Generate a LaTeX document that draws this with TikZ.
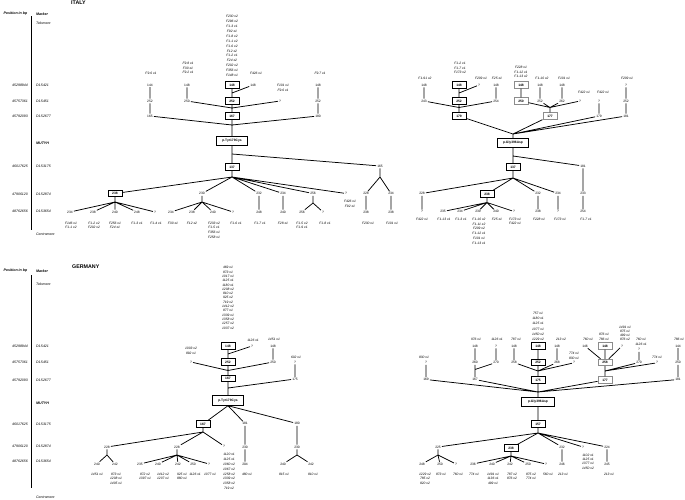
\documentclass[tikz,border=0pt]{standalone}
\usepackage{fontspec}
\setmainfont{Liberation Sans}
\newcommand{\myLab}{\fontsize{3.3}{4.6}\selectfont\itshape}
\newcommand{\myNum}{\fontsize{3.3}{4}\selectfont}
\newcommand{\myBox}{\fontsize{3.3}{4}\selectfont\bfseries}
\newcommand{\myHead}{\fontsize{3.6}{4.2}\selectfont\bfseries\itshape}
\newcommand{\myPos}{\fontsize{3.5}{4.2}\selectfont\itshape}
\newcommand{\myTitle}{\fontsize{5.3}{6}\selectfont\bfseries}
\begin{document}
\begin{tikzpicture}[x=1pt,y=-1pt,
 lab/.style={font=\myLab, align=center, inner sep=0.2pt},
 labs/.style={lab, font=\fontsize{3.3}{#1}\selectfont\itshape},
 num/.style={font=\myNum, inner sep=0.9pt},
 bx/.style={draw, line width=0.9pt, font=\myBox, minimum width=14pt, minimum height=6.4pt, inner sep=0.4pt},
 gbx/.style={bx, draw=black!45},
 mbx/.style={bx, minimum width=31pt, minimum height=9.5pt},
 ed/.style={line width=0.75pt},
 axis/.style={line width=1pt},
 posl/.style={font=\myPos, anchor=east, inner sep=0pt},
 mk/.style={font=\myPos, anchor=west, inner sep=0pt},
 mkb/.style={font=\myHead, anchor=west, inner sep=0pt},
 head/.style={font=\myHead, inner sep=0pt},
 ttl/.style={font=\myTitle, anchor=west, inner sep=0pt}]
\useasboundingbox (0,0) rectangle (685,499);

% ================= ITALY: side column =================
\node[ttl] (ITtitle) at (71,3) {ITALY};
\node[head, anchor=east] (ITposh) at (27.5,14) {Position in bp};
\node[head, anchor=west] (ITmarkh) at (36,14) {Marker};
\coordinate (ITax1) at (31.5,16);
\coordinate (ITax2) at (31.5,230);
\draw[axis] (ITax1) -- (ITax2);
\node[posl] (ITp1) at (28,85) {45298944};
\node[posl] (ITp2) at (28,101) {45757361};
\node[posl] (ITp3) at (28,116) {45792093};
\node[posl] (ITp4) at (28,166) {46017625};
\node[posl] (ITp5) at (28,194) {47906120};
\node[posl] (ITp6) at (28,211) {48762656};
\node[mk] (ITm0) at (36,23) {Telomere};
\node[mk] (ITm1) at (36,85) {D1S421};
\node[mk] (ITm2) at (36,101) {D1S451};
\node[mk] (ITm3) at (36,116) {D1S2677};
\node[mkb] (ITm4) at (36,143) {MUTYH};
\node[mk] (ITm5) at (36,166) {D1S3175};
\node[mk] (ITm6) at (36,194) {D1S2874};
\node[mk] (ITm7) at (36,211) {D1S3654};
\node[mk] (ITm8) at (36,234) {Centromere};

% ================= ITALY: p.Tyr179Cys tree =================
\node[labs=4.9, anchor=south] (ILl0) at (232,77) {F230 x2\\F296 x2\\F1-3 x1\\F92 x1\\F1-8 x2\\F1-1 x2\\F1-6 x2\\F12 x2\\F1-2 x1\\F24 x2\\F202 x2\\F356 x1\\F148 x1};
\node[bx] (ILb1) at (232,85) {148};
\node[bx] (ILb2) at (232,101) {252};
\node[bx] (ILb3) at (232,116) {167};
\node[mbx] (ILpt) at (232,141) {p.Tyr179Cys};
\node[bx] (ILb4) at (232,167) {137};
\node[bx] (ILb5) at (115,193.5) {238};
\node[lab] (ILl1) at (151,73) {F9.6 x1};
\node[num] (ILn1) at (150,85) {144};
\node[num] (ILn2) at (150,101) {252};
\node[num] (ILn3) at (150,116) {165};
\node[labs=4.5, anchor=south] (ILl2) at (188,74) {F9.8 x1\\F30 x1\\F9.2 x1};
\node[num] (ILn4) at (187,85) {148};
\node[num] (ILn5) at (187,101) {250};
\node[lab] (ILl3) at (256,73) {F426 x1};
\node[num] (ILn6) at (253,85) {148};
\node[labs=4.3] (ILl4) at (283,88) {F101 x1\\F9.6 x1};
\node[num] (ILn7) at (280,101) {?};
\node[lab] (ILl5) at (320,73) {F9.7 x1};
\node[num] (ILn8) at (318,85) {148};
\node[num] (ILn9) at (318,101) {252};
\node[num] (ILn10) at (318,116) {180};
\coordinate (ILj1) at (232,93);
\coordinate (ILj2) at (232,108);
\coordinate (ILj3) at (232,125);
\coordinate (ILj4) at (232,154);
\coordinate (ILj5) at (232,177);
\coordinate (ILj6) at (380,177);
\draw[ed] (ILn1)--(ILn2) (ILn2)--(ILn3) (ILn4)--(ILn5) (ILb1)--(ILb2) (ILn6)--(ILj1)
 (ILb2)--(ILb3) (ILn5)--(ILj2) (ILn7)--(ILj2) (ILn8)--(ILn9) (ILn9)--(ILn10)
 (ILn3)--(ILj3) (ILn10)--(ILj3) (ILb3)--(ILpt) (ILpt)--(ILb4);
\node[num] (ILd1) at (380,166) {165};
\node[num] (ILe1) at (202,193.5) {230};
\node[num] (ILe2) at (259,193.5) {232};
\node[num] (ILe3) at (283,193.5) {234};
\node[num] (ILe4) at (313,193.5) {256};
\node[num] (ILe5) at (346,193.5) {?};
\node[num] (ILe6) at (366,193.5) {228};
\node[num] (ILe7) at (391,193.5) {234};
\draw[ed] (ILj4)--(ILd1) (ILb4)--(ILj5) (ILj5)--(ILb5) (ILj5)--(ILe1) (ILj5)--(ILe2)
 (ILj5)--(ILe3) (ILj5)--(ILe4) (ILj5)--(ILe5) (ILd1)--(ILj6) (ILj6)--(ILe6) (ILj6)--(ILe7);
\coordinate (ILj7) at (115,202);
\coordinate (ILj8) at (202,202);
\coordinate (ILj9) at (313,203);
\node[num] (ILf1) at (70,212) {234};
\node[num] (ILf2) at (93,212) {238};
\node[num] (ILf3) at (115,212) {240};
\node[num] (ILf4) at (137,212) {248};
\node[num] (ILf5) at (155,212) {?};
\node[num] (ILf6) at (171,212) {234};
\node[num] (ILf7) at (192,212) {238};
\node[num] (ILf8) at (213,212) {240};
\node[num] (ILf9) at (233,212) {?};
\node[num] (ILf10) at (259,212) {248};
\node[num] (ILf11) at (283,212) {240};
\node[num] (ILf12) at (302,212) {256};
\node[num] (ILf13) at (323,212) {?};
\node[num] (ILf14) at (366,212) {238};
\node[num] (ILf15) at (391,212) {238};
\draw[ed] (ILb5)--(ILj7) (ILj7)--(ILf1) (ILj7)--(ILf2) (ILj7)--(ILf3) (ILj7)--(ILf4) (ILj7)--(ILf5)
 (ILe1)--(ILj8) (ILj8)--(ILf6) (ILj8)--(ILf7) (ILj8)--(ILf8) (ILj8)--(ILf9)
 (ILe2)--(ILf10) (ILe3)--(ILf11) (ILe4)--(ILj9) (ILj9)--(ILf12) (ILj9)--(ILf13)
 (ILe6)--(ILf14) (ILe7)--(ILf15);
\node[lab, anchor=north] (ILk1) at (71,221.5) {F146 x1\\F1-1 x2};
\node[lab, anchor=north] (ILk2) at (94,221.5) {F1-2 x2\\F202 x2};
\node[lab, anchor=north] (ILk3) at (115,221.5) {F256 x1\\F24 x1};
\node[lab, anchor=north] (ILk4) at (137,221.5) {F1-3 x1};
\node[lab, anchor=north] (ILk5) at (156,221.5) {F1-4 x1};
\node[lab, anchor=north] (ILk6) at (173,221.5) {F30 x1};
\node[lab, anchor=north] (ILk7) at (192,221.5) {F12 x2};
\node[lab, anchor=north] (ILk8) at (214,221.5) {F233 x2\\F1-5 x1\\F356 x1\\F258 x1};
\node[lab, anchor=north] (ILk9) at (236,221.5) {F1-6 x1};
\node[lab, anchor=north] (ILk10) at (260,221.5) {F1-7 x1};
\node[lab, anchor=north] (ILk11) at (283,221.5) {F28 x1};
\node[lab, anchor=north] (ILk12) at (302,221.5) {F1-5 x2\\F1-9 x1};
\node[lab, anchor=north] (ILk13) at (325,221.5) {F1-8 x1};
\node[lab, anchor=north] (ILk14) at (350,200) {F426 x1\\F92 x1};
\node[lab, anchor=north] (ILk15) at (368,221.5) {F230 x1};
\node[lab, anchor=north] (ILk16) at (392,221.5) {F101 x1};

% ================= ITALY: p.Gly396Asp tree =================
\node[lab] (IRl1) at (425,78) {F1-91 x2};
\node[num] (IRn1) at (424,85) {148};
\node[num] (IRn2) at (424,101) {243};
\node[labs=4.5, anchor=south] (IRl2) at (460,74) {F1-2 x1\\F1-7 x1\\F173 x2};
\node[bx] (IRb1) at (459,85) {148};
\node[bx] (IRb2) at (459,101) {252};
\node[bx] (IRb3) at (459,116) {179};
\node[lab] (IRl3) at (481,78) {F209 x1};
\node[num] (IRn3) at (479,85) {?};
\node[lab] (IRl4) at (497,78) {F25 x1};
\node[num] (IRn4) at (496,85) {148};
\node[num] (IRn5) at (496,101) {254};
\node[labs=4.5, anchor=south] (IRl5) at (521,78) {F228 x1\\F1-12 x1\\F1-13 x2};
\node[gbx] (IRg1) at (521,85) {148};
\node[gbx] (IRg2) at (521,101) {250};
\node[gbx] (IRg3) at (550,116) {177};
\node[lab] (IRl6) at (542,78) {F1-10 x2};
\node[num] (IRn6) at (540,85) {148};
\node[num] (IRn7) at (540,101) {252};
\node[lab] (IRl7) at (564,78) {F101 x1};
\node[num] (IRn8) at (562,85) {148};
\node[num] (IRn9) at (562,101) {262};
\node[lab] (IRl8) at (584,92) {F422 x1};
\node[num] (IRn10) at (580,101) {?};
\node[lab] (IRl9) at (603,92) {F422 x1};
\node[num] (IRn11) at (599,101) {?};
\node[num] (IRn12) at (599,116) {179};
\node[lab] (IRl10) at (627,78) {F209 x1};
\node[num] (IRn13) at (626,85) {?};
\node[num] (IRn14) at (626,101) {252};
\node[num] (IRn15) at (626,116) {181};
\coordinate (IRj1) at (459,93);
\coordinate (IRj2) at (459,107.5);
\coordinate (IRj3) at (550,107.5);
\coordinate (IRj4) at (513,134);
\coordinate (IRj5) at (513,156);
\coordinate (IRj6) at (513,178);
\node[mbx] (IRpg) at (513,143) {p.Gly396Asp};
\node[bx] (IRb4) at (513,167) {137};
\node[num] (IRd1) at (583,166) {181};
\draw[ed] (IRn1)--(IRn2) (IRb1)--(IRb2) (IRn3)--(IRj1) (IRn4)--(IRn5) (IRb2)--(IRb3)
 (IRn2)--(IRj2) (IRn5)--(IRj2) (IRg1)--(IRg2) (IRn6)--(IRn7) (IRn8)--(IRn9)
 (IRg2)--(IRj3) (IRn7)--(IRj3) (IRn9)--(IRj3) (IRn10)--(IRj3) (IRj3)--(IRg3)
 (IRn11)--(IRn12) (IRn13)--(IRn14) (IRn14)--(IRn15)
 (IRb3)--(IRj4) (IRg3)--(IRj4) (IRn12)--(IRj4) (IRn15)--(IRj4) (IRj4)--(IRpg)
 (IRpg)--(IRb4) (IRj5)--(IRd1) (IRb4)--(IRj6);
\node[num] (IRe1) at (422,193.5) {228};
\node[bx] (IRb5) at (487,194) {238};
\node[num] (IRe2) at (538,193.5) {232};
\node[num] (IRe3) at (558,193.5) {234};
\node[num] (IRe4) at (583,193.5) {233};
\coordinate (IRj7) at (487,202.5);
\node[num] (IRf1) at (422,211.5) {?};
\node[num] (IRf2) at (443,211.5) {235};
\node[num] (IRf3) at (460,211.5) {234};
\node[num] (IRf4) at (478,211.5) {239};
\node[num] (IRf5) at (496,211.5) {240};
\node[num] (IRf6) at (514,211.5) {?};
\node[num] (IRf7) at (538,211.5) {238};
\node[num] (IRf8) at (558,211.5) {?};
\node[num] (IRf9) at (583,211.5) {254};
\draw[ed] (IRj6)--(IRe1) (IRj6)--(IRb5) (IRj6)--(IRe2) (IRj6)--(IRe3) (IRd1)--(IRe4)
 (IRe1)--(IRf1) (IRb5)--(IRj7) (IRj7)--(IRf2) (IRj7)--(IRf3) (IRj7)--(IRf4) (IRj7)--(IRf5) (IRj7)--(IRf6)
 (IRe2)--(IRf7) (IRe3)--(IRf8) (IRe4)--(IRf9);
\node[lab, anchor=north] (IRk1) at (422,217.5) {F422 x1};
\node[lab, anchor=north] (IRk2) at (444,217.5) {F1-13 x1};
\node[lab, anchor=north] (IRk3) at (461,217.5) {F1-3 x1};
\node[labs=4.8, anchor=north] (IRk4) at (479,217.5) {F1-10 x2\\F1-11 x2\\F209 x2\\F1-12 x1\\F101 x1\\F1-13 x1};
\node[lab, anchor=north] (IRk5) at (497,217.5) {F25 x1};
\node[lab, anchor=north] (IRk6) at (515,217.5) {F173 x1\\F422 x1};
\node[lab, anchor=north] (IRk7) at (539,217.5) {F228 x1};
\node[lab, anchor=north] (IRk8) at (560,217.5) {F173 x1};
\node[lab, anchor=north] (IRk9) at (586,217.5) {F1-7 x1};

% ================= GERMANY: side column =================
\node[ttl] (DEtitle) at (72,267) {GERMANY};
\node[head, anchor=east] (DEposh) at (27.5,271) {Position in bp};
\node[head, anchor=west] (DEmarkh) at (36,271) {Marker};
\coordinate (DEax1) at (31.5,275);
\coordinate (DEax2) at (31.5,488);
\draw[axis] (DEax1) -- (DEax2);
\node[posl] (DEp1) at (28,346) {45298944};
\node[posl] (DEp2) at (28,362) {45757361};
\node[posl] (DEp3) at (28,380) {45792093};
\node[posl] (DEp4) at (28,424) {46017625};
\node[posl] (DEp5) at (28,446) {47906120};
\node[posl] (DEp6) at (28,461) {48762656};
\node[mk] (DEm0) at (36,284) {Telomere};
\node[mk] (DEm1) at (36,346) {D1S421};
\node[mk] (DEm2) at (36,362) {D1S451};
\node[mk] (DEm3) at (36,380) {D1S2677};
\node[mkb] (DEm4) at (36,403) {MUTYH};
\node[mk] (DEm5) at (36,424) {D1S3175};
\node[mk] (DEm6) at (36,446) {D1S2874};
\node[mk] (DEm7) at (36,461) {D1S3654};
\node[mk] (DEm8) at (36,497) {Centromere};

% ================= GERMANY: p.Tyr179Cys tree =================
\node[labs=4.3, anchor=south] (GLl0) at (228,329.5) {469 x1\\873 x1\\1017 x1\\1125 x1\\1180 x1\\1208 x2\\810 x2\\925 x2\\719 x2\\1412 x2\\877 x1\\1339 x1\\1358 x2\\1257 x2\\1037 x2};
\node[bx] (GLb1) at (228,346) {148};
\node[bx] (GLb2) at (228,362) {252};
\node[bx] (GLb3) at (228,378.5) {167};
\node[lab] (GLl1) at (253,340) {1126 x1};
\node[num] (GLn1) at (252,346) {?};
\node[lab] (GLl2) at (274,339) {1451 x1};
\node[num] (GLn2) at (273,346) {148};
\node[num] (GLn3) at (273,362) {250};
\node[labs=4.3, anchor=south] (GLl3) at (191,354.5) {1003 x2\\892 x1};
\node[num] (GLn4) at (191,362) {?};
\node[lab] (GLl4) at (296,357) {602 x1};
\node[num] (GLn5) at (295,362) {?};
\node[num] (GLn6) at (295,379) {175};
\coordinate (GLj1) at (228,354);
\coordinate (GLj2) at (228,370.5);
\coordinate (GLj3) at (228,388);
\node[mbx] (GLpt) at (228,400.5) {p.Tyr179Cys};
\node[bx] (GLd1) at (203,424) {167};
\node[num] (GLd2) at (245,423.5) {181};
\node[num] (GLd3) at (297,423.5) {180};
\draw[ed] (GLn2)--(GLn3) (GLb1)--(GLb2) (GLn1)--(GLj1) (GLb2)--(GLb3) (GLn4)--(GLj2)
 (GLn3)--(GLj2) (GLn5)--(GLn6) (GLb3)--(GLj3) (GLn6)--(GLj3) (GLj3)--(GLpt)
 (GLpt.south)--(GLd1) (GLpt.south)--(GLd2) (GLpt.south)--(GLd3);
\coordinate (GLj5) at (203,432);
\node[num] (GLe1) at (107,447) {228};
\node[num] (GLe2) at (177,447) {228};
\node[num] (GLe3) at (224,446) {?};
\node[num] (GLe4) at (245,447) {230};
\node[num] (GLe5) at (297,447) {230};
\draw[ed] (GLd1)--(GLj5) (GLj5)--(GLe1) (GLj5)--(GLe2) (GLj5)--(GLe3) (GLd2)--(GLe4) (GLd3)--(GLe5);
\node[labs=4.85, anchor=north] (GLk0) at (229,453) {1120 x1\\1125 x1\\1060 x2\\1067 x2\\1258 x2\\1339 x2\\1358 x2\\719 x2};
\coordinate (GLj6) at (107,455);
\coordinate (GLj7) at (177,455);
\coordinate (GLj8) at (297,455);
\node[num] (GLf1) at (97,464) {240};
\node[num] (GLf2) at (115,464) {242};
\node[num] (GLf3) at (140,464) {235};
\node[num] (GLf4) at (158,464) {240};
\node[num] (GLf5) at (178,464) {242};
\node[num] (GLf6) at (193,464) {250};
\node[num] (GLf7) at (209,464) {?};
\node[num] (GLf8) at (245,464) {204};
\node[num] (GLf9) at (283,464) {240};
\node[num] (GLf10) at (311,464) {242};
\draw[ed] (GLe1)--(GLj6) (GLj6)--(GLf1) (GLj6)--(GLf2)
 (GLe2)--(GLj7) (GLj7)--(GLf3) (GLj7)--(GLf4) (GLj7)--(GLf5) (GLj7)--(GLf6) (GLj7)--(GLf7)
 (GLe4)--(GLf8) (GLe5)--(GLj8) (GLj8)--(GLf9) (GLj8)--(GLf10);
\node[lab, anchor=north] (GLk1) at (97,472.5) {1451 x1};
\node[lab, anchor=north] (GLk2) at (116,472.5) {873 x1\\1208 x1\\1405 x1};
\node[lab, anchor=north] (GLk3) at (145,472.5) {872 x2\\1397 x1};
\node[lab, anchor=north] (GLk4) at (163,472.5) {1412 x2\\1207 x1};
\node[lab, anchor=north] (GLk5) at (182,472.5) {925 x1\\880 x1};
\node[lab, anchor=north] (GLk6) at (195,472.5) {1126 x1};
\node[lab, anchor=north] (GLk7) at (210,472.5) {1077 x1};
\node[lab, anchor=north] (GLk8) at (247,472.5) {480 x1};
\node[lab, anchor=north] (GLk9) at (284,472.5) {815 x1};
\node[lab, anchor=north] (GLk10) at (313,472.5) {810 x1};

% ================= GERMANY: p.Gly396Asp tree =================
\node[lab] (GRl1) at (424,357) {830 x1};
\node[num] (GRn1) at (426,362.5) {?};
\node[num] (GRn2) at (426,379.5) {169};
\node[lab] (GRl2) at (476,339) {976 x1};
\node[num] (GRn3) at (475,346) {148};
\node[num] (GRn4) at (475,362.5) {260};
\node[num] (GRn5) at (475,379.5) {167};
\node[lab] (GRl3) at (497,339) {1126 x1};
\node[num] (GRn6) at (496,346) {?};
\node[num] (GRn7) at (496,362.5) {270};
\node[lab] (GRl4) at (516,339) {787 x1};
\node[num] (GRn8) at (514,346) {148};
\node[num] (GRn9) at (514,362.5) {258};
\node[labs=5.2, anchor=south] (GRl0) at (538,341) {757 x1\\1180 x1\\1125 x1\\1077 x1\\1450 x2\\1229 x2};
\node[bx] (GRb1) at (538,346) {148};
\node[bx] (GRb2) at (538,362.5) {252};
\node[bx] (GRb3) at (538,380) {175};
\node[lab] (GRl5) at (561,339) {213 x2};
\node[num] (GRn10) at (557,346) {148};
\node[num] (GRn11) at (557,362.5) {268};
\node[labs=4.2, anchor=south] (GRl6) at (574,359.5) {774 x1\\830 x1};
\node[num] (GRn12) at (574,362.8) {?};
\node[lab] (GRl7) at (588,339) {760 x1};
\node[num] (GRn13) at (585,346) {146};
\node[labs=4.6, anchor=south] (GRl8) at (604,341) {876 x1\\786 x1};
\node[gbx] (GRg1) at (605,346) {148};
\node[gbx] (GRg2) at (605,362.5) {258};
\node[labs=4, anchor=south] (GRl9) at (625,340.5) {1491 x1\\875 x1\\499 x1\\876 x2};
\node[num] (GRn14) at (622,346) {?};
\node[labs=4.6, anchor=south] (GRl10) at (641,346) {760 x1\\1126 x1};
\node[num] (GRn15) at (639,349.5) {?};
\node[num] (GRn16) at (639,362.5) {270};
\node[lab] (GRl11) at (657,357) {774 x1};
\node[num] (GRn17) at (657,362.8) {?};
\node[lab] (GRl12) at (679,339) {786 x1};
\node[num] (GRn18) at (678,346) {144};
\node[num] (GRn19) at (678,362.5) {250};
\node[num] (GRn20) at (678,379.5) {181};
\node[gbx] (GRg3) at (605,380) {177};
\coordinate (GRj1) at (475,369.5);
\coordinate (GRj2) at (538,371);
\coordinate (GRj3) at (605,371);
\coordinate (GRj4) at (538,392);
\node[mbx, minimum width=33pt] (GRpg) at (538,402) {p.Gly396Asp};
\node[bx] (GRb4) at (538,424) {157};
\coordinate (GRj5) at (538,433);
\draw[ed] (GRn1)--(GRn2) (GRn3)--(GRn4) (GRn4)--(GRn5) (GRn7)--(GRj1) (GRn6)--(GRn7)
 (GRn8)--(GRn9) (GRb1)--(GRb2) (GRn10)--(GRn11) (GRn9)--(GRj2) (GRb2)--(GRb3)
 (GRn11)--(GRj2) (GRn12)--(GRj2) (GRn13)--(GRg2) (GRg1)--(GRg2) (GRn14)--(GRg2)
 (GRn15)--(GRn16) (GRg2)--(GRg3) (GRn16)--(GRj3) (GRn17)--(GRj3) (GRn18)--(GRn19)
 (GRn19)--(GRn20) (GRn2)--(GRj4) (GRn5)--(GRj4) (GRb3)--(GRj4) (GRg3)--(GRj4)
 (GRn20)--(GRj4) (GRj4)--(GRpg) (GRpg)--(GRb4) (GRb4)--(GRj5);
\node[num] (GRe1) at (438,447) {225};
\node[bx] (GRb5) at (511,448) {238};
\node[num] (GRe2) at (562,447) {232};
\node[num] (GRe3) at (583,447) {?};
\node[num] (GRe4) at (607,447) {224};
\draw[ed] (GRj5)--(GRe1) (GRj5)--(GRb5) (GRj5)--(GRe2) (GRj5)--(GRe3) (GRj5)--(GRe4);
\node[labs=4.3, anchor=north] (GRk0) at (588,453.5) {1102 x1\\1125 x1\\1377 x1\\1450 x2};
\coordinate (GRj6) at (438,455);
\coordinate (GRj7) at (511,456);
\node[num] (GRf1) at (422,464) {248};
\node[num] (GRf2) at (440,464) {250};
\node[num] (GRf3) at (456,464) {?};
\node[num] (GRf4) at (473,464) {236};
\node[num] (GRf5) at (492,464) {240};
\node[num] (GRf6) at (510,464) {242};
\node[num] (GRf7) at (528,464) {250};
\node[num] (GRf8) at (546,464) {?};
\node[num] (GRf9) at (562,464) {246};
\node[num] (GRf10) at (607,464) {245};
\draw[ed] (GRe1)--(GRj6) (GRj6)--(GRf1) (GRj6)--(GRf2) (GRj6)--(GRf3)
 (GRb5)--(GRj7) (GRj7)--(GRf4) (GRj7)--(GRf5) (GRj7)--(GRf6) (GRj7)--(GRf7) (GRj7)--(GRf8)
 (GRe2)--(GRf9) (GRe4)--(GRf10);
\node[lab, anchor=north] (GRk1) at (425,472.5) {1229 x2\\785 x2\\820 x2};
\node[lab, anchor=north] (GRk2) at (441,472.5) {873 x1};
\node[lab, anchor=north] (GRk3) at (458,472.5) {760 x1};
\node[lab, anchor=north] (GRk4) at (474,472.5) {774 x1};
\node[lab, anchor=north] (GRk5) at (493,472.5) {1491 x1\\1136 x1\\499 x1};
\node[lab, anchor=north] (GRk6) at (512,472.5) {787 x2\\876 x2};
\node[lab, anchor=north] (GRk7) at (531,472.5) {875 x2\\774 x1};
\node[lab, anchor=north] (GRk8) at (548,472.5) {560 x1};
\node[lab, anchor=north] (GRk9) at (563,472.5) {213 x1};
\node[lab, anchor=north] (GRk10) at (609,472.5) {213 x1};
\end{tikzpicture}
\end{document}
